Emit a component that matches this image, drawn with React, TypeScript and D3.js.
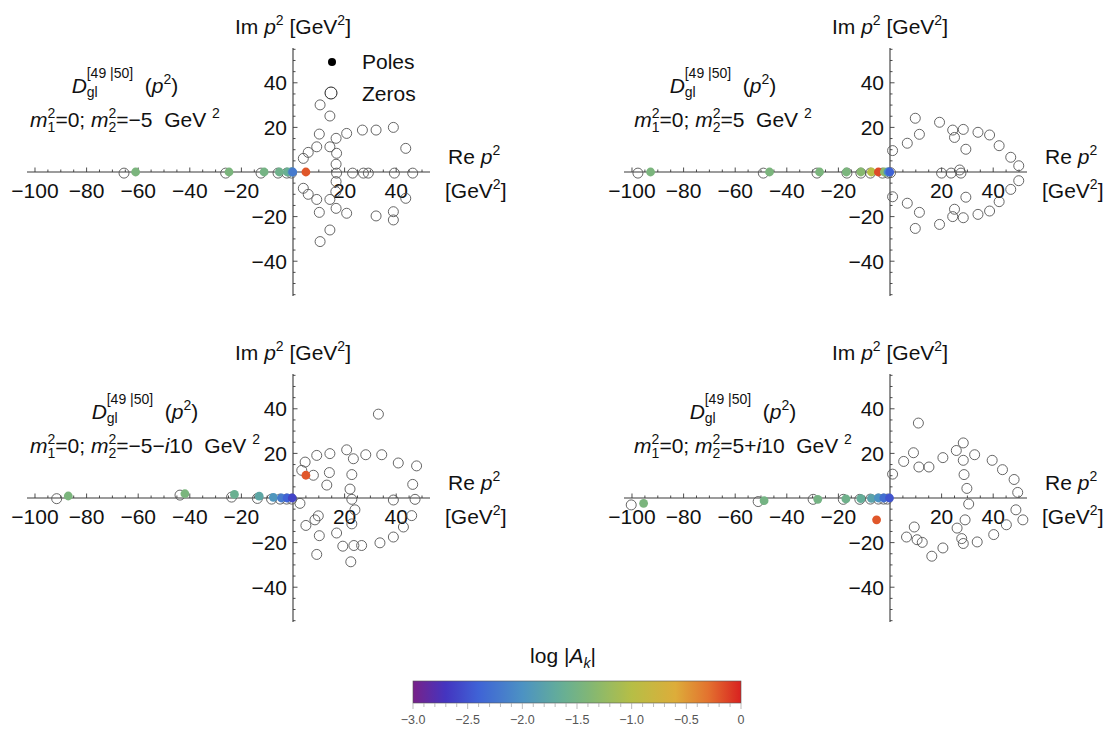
import React from "react";
import * as d3 from "d3";

// ---------- data ----------
const xTickValues = [-100, -80, -60, -40, -20, 20, 40];
const yTickValues = [-40, -20, 20, 40];
const cbTickValues = [-3, -2.5, -2, -1.5, -1, -0.5, 0];
const cbTickLabels = ["−3.0", "−2.5", "−2.0", "−1.5", "−1.0", "−0.5", "0"];
const rainbowDomain = [-3, -2.7, -2.4, -2.0, -1.65, -1.35, -1.0, -0.6, -0.3, 0];
const rainbowRange = ["#782189", "#4435C0", "#3F63D6", "#4C92C3", "#64AE98", "#86B870", "#B6BE46", "#DDAD3A", "#E3722F", "#D92120"];

// zeros: [Re, Im]; poles: [Re, Im, log|A_k|]
const zeros1 = [
  [-65.5, -0.5], [-26.1, -0.5], [-12.4, -0.5], [-5.8, -0.5], [-2.4, -0.5], [-0.6, -0.5],
  [16.9, -0.5], [23.1, -0.5], [27.3, -0.5], [29.2, -0.5], [39.3, -0.5], [46.4, -0.5],
  [10.5, 30.1], [14.3, 25.1], [10.2, 17.0], [16.7, 15.1], [20.8, 17.3], [26.9, 18.8], [32.2, 18.8],
  [38.9, 20.0], [43.7, 10.6], [9.2, 11.3], [14.3, 11.3], [5.9, 8.8], [4.0, 6.1], [16.9, 8.4], [16.7, 3.5],
  [16.7, -4.3], [16.6, -8.8], [14.3, -12.3], [4.0, -7.3], [5.9, -10.0], [9.2, -12.3], [16.7, -16.3],
  [10.2, -18.1], [20.8, -18.5], [32.2, -19.7], [38.9, -17.8], [38.9, -21.5], [43.7, -11.8], [14.3, -26.0], [10.5, -31.2],
];
const poles1 = [
  [-61, 0, -1.45], [-24.8, 0, -1.45], [-11.2, 0, -1.5], [-5.3, 0, -1.55], [-2.2, 0, -1.6],
  [-0.8, 0, -1.7], [-0.3, 0, -1.9], [-0.1, 0, -2.2], [5.0, 0, -0.2],
];
const zeros2 = [
  [-97.7, -0.5], [-49.1, -0.5], [-28.3, -0.5], [-16.7, -0.5], [-11.3, -0.5], [-7.6, -0.5], [-2.9, -0.5],
  [-0.8, -0.5], [0.2, -0.3], [20.0, -0.5], [23.7, -0.5], [27.5, -0.5], [27.0, 0.9],
  [1.0, 9.6], [6.7, 12.9], [9.8, 24.1], [11.4, 16.9], [19.2, 22.3], [24.3, 18.8], [25.0, 15.5], [28.4, 19.1],
  [29.4, 10.2], [34.1, 17.8], [38.6, 16.6], [42.3, 11.8], [46.8, 6.6], [49.9, 2.8],
  [1.0, -11.1], [6.7, -14.0], [11.4, -18.1], [9.8, -25.3], [19.2, -23.5], [24.3, -20.0], [25.0, -16.7], [28.4, -20.5],
  [29.4, -11.3], [34.1, -19.0], [38.6, -17.5], [42.3, -13.3], [46.8, -7.8], [49.9, -3.9],
];
const poles2 = [
  [-92.8, 0, -1.45], [-46.7, 0, -1.45], [-27.3, 0, -1.45], [-16.9, 0, -1.45], [-11.3, 0, -1.35],
  [-7.2, 0, -1.0], [-4.5, 0, -0.15], [-2.2, 0, -1.3], [-0.8, 0, -2.0], [-0.1, 0, -2.4],
];
const zeros3 = [
  [-91.6, -0.3], [-43.8, 1.3], [-23.8, 0.4], [-13.8, -0.2], [-8.3, -0.5], [-5.0, -0.5], [-2.5, -0.5], [-0.5, -0.5], [2.7, -2.4],
  [33.1, 37.6], [20.8, 21.6], [14.3, 19.9], [9.2, 19.1], [4.7, 16.1], [3.4, 12.4], [7.9, 10.2], [23.4, 17.6], [28.2, 19.4],
  [34.4, 19.4], [40.8, 15.7], [47.9, 14.4], [46.4, 6.1], [14.1, 11.4], [13.1, 5.8], [22.8, 10.5], [22.1, 4.0],
  [22.8, -0.6], [38.9, -0.9], [47.3, -0.6],
  [24.0, -5.3], [22.8, -11.6], [9.8, -8.0], [8.5, -9.8], [5.0, -12.3], [10.2, -16.9], [16.9, -15.7], [19.3, -21.6],
  [23.6, -21.3], [26.6, -21.3], [33.7, -20.1], [38.9, -17.5], [42.8, -13.0], [46.0, -7.9], [9.2, -25.3], [22.4, -28.6],
];
const poles3 = [
  [-87.1, 0.9, -1.45], [-41.9, 1.9, -1.45], [-22.7, 1.6, -1.6], [-13.1, 0.8, -1.75], [-7.6, 0.3, -1.95],
  [-4.5, 0, -2.2], [-2.3, 0, -2.4], [-0.3, 0, -2.6], [5.0, 10.2, -0.2],
];
const zeros4 = [
  [-100.3, -3.1], [-51.1, -1.6], [-29.8, -0.6], [-18.1, -0.6], [-11.7, -0.6], [-7.6, -0.5], [-4.5, -0.5], [-2.5, -0.5], [-1.0, -0.5],
  [11.0, 33.6], [9.1, 20.3], [5.3, 16.4], [1.0, 10.7], [11.2, 13.9], [15.1, 13.9], [20.5, 18.1], [25.7, 21.3], [28.4, 24.7],
  [28.4, 16.9], [28.7, 10.5], [29.8, 4.3], [32.8, 19.4], [39.6, 16.9], [43.6, 12.7], [48.1, 8.3], [49.5, 2.5],
  [30.5, -2.7], [29.1, -9.8], [48.8, -5.3], [51.5, -9.8], [45.1, -12.0], [40.2, -16.4], [33.8, -19.7], [26.0, -13.5],
  [27.8, -18.2], [28.4, -20.4], [20.5, -22.4], [16.2, -26.1], [9.4, -13.0], [10.5, -18.7], [6.4, -17.5], [12.5, -19.9],
];
const poles4 = [
  [-95.5, -2.4, -1.45], [-48.8, -1.2, -1.5], [-28.0, -0.6, -1.5], [-17.1, -0.4, -1.55], [-11.3, -0.3, -1.65],
  [-7.2, -0.2, -1.8], [-4.5, 0, -2.0], [-2.4, 0, -2.3], [-0.2, 0, -2.5], [-5.2, -9.8, -0.2],
];

// ---------- layout ----------
const FONT = "'Liberation Sans', Arial, Helvetica, sans-serif";
const X_DOMAIN = [-103.1, 53.1];
const Y_DOMAIN = [-55.6, 55.6];
const AXIS = "#3a3a3a";
const FS = 21;
const SS = 14;

const color = d3.scaleLinear<string>().domain(rainbowDomain).range(rainbowRange).interpolate(d3.interpolateRgb).clamp(true);

type PanelProps = {
  ox: number; oy: number; zeros: number[][]; poles: number[][];
  labelCx: number; m2: React.ReactNode; legend?: boolean;
};

function Panel({ ox, oy, zeros, poles, labelCx, m2, legend }: PanelProps) {
  const x = d3.scaleLinear().domain(X_DOMAIN).range([27 + ox, 430 + ox]);
  const y = d3.scaleLinear().domain(Y_DOMAIN).range([296 + oy, 48 + oy]);
  const x0 = x(0);
  const y0 = y(0);
  const xMinor = d3.range(-100, 51, 5);
  const yMinor = d3.range(-55, 56, 5);
  return (
    <g fontFamily={FONT} fill="#111">
      <line x1={x(X_DOMAIN[0])} x2={x(X_DOMAIN[1])} y1={y0} y2={y0} stroke={AXIS} strokeWidth={1.1} />
      <line x1={x0} x2={x0} y1={y(Y_DOMAIN[1])} y2={y(Y_DOMAIN[0])} stroke={AXIS} strokeWidth={1.1} />
      {xMinor.map((v) => (v === 0 ? null : (
        <line key={"xt" + v} x1={x(v)} x2={x(v)} y1={y0} y2={y0 - (v % 20 === 0 ? 4.5 : 2.5)} stroke={AXIS} strokeWidth={0.9} />
      )))}
      {yMinor.map((v) => (v === 0 ? null : (
        <line key={"yt" + v} x1={x0} x2={x0 + (v % 20 === 0 ? 4.5 : 2.5)} y1={y(v)} y2={y(v)} stroke={AXIS} strokeWidth={0.9} />
      )))}
      {xTickValues.map((v) => (
        <text key={"xl" + v} x={x(v)} y={y0 + 26} textAnchor="middle" fontSize={FS}>
          {v < 0 ? "−" + Math.abs(v) : String(v)}
        </text>
      ))}
      {yTickValues.map((v) => (
        <text key={"yl" + v} x={x0 - 6} y={y(v) + 7.5} textAnchor="end" fontSize={FS}>
          {v < 0 ? "−" + Math.abs(v) : String(v)}
        </text>
      ))}
      <text x={x0} y={34 + oy} textAnchor="middle" fontSize={FS} style={{ whiteSpace: "pre" }}>
        <tspan>{"Im "}</tspan>
        <tspan fontStyle="italic">p</tspan>
        <tspan fontSize={SS} dy={-9}>2</tspan>
        <tspan dy={9}>{" [GeV"}</tspan>
        <tspan fontSize={SS} dy={-9}>2</tspan>
        <tspan dy={9}>]</tspan>
      </text>
      <text x={448 + ox} y={164 + oy} fontSize={FS} style={{ whiteSpace: "pre" }}>
        <tspan>{"Re "}</tspan>
        <tspan fontStyle="italic">p</tspan>
        <tspan fontSize={SS} dy={-9}>2</tspan>
      </text>
      <text x={445 + ox} y={198 + oy} fontSize={FS} style={{ whiteSpace: "pre" }}>
        <tspan>[GeV</tspan>
        <tspan fontSize={SS} dy={-9}>2</tspan>
        <tspan dy={9}>]</tspan>
      </text>
      <text x={labelCx} y={93 + oy} textAnchor="middle" fontSize={FS} style={{ whiteSpace: "pre" }}>
        <tspan fontStyle="italic">D</tspan>
        <tspan fontSize={SS} dy={4}>gl</tspan>
        <tspan fontSize={SS} dx={-11} dy={-19}>{"[49 |50]"}</tspan>
        <tspan dy={15}>{"  ("}</tspan>
        <tspan fontStyle="italic">p</tspan>
        <tspan fontSize={SS} dy={-9}>2</tspan>
        <tspan dy={9}>)</tspan>
      </text>
      <text x={labelCx} y={127 + oy} textAnchor="middle" fontSize={FS} style={{ whiteSpace: "pre" }}>
        <tspan fontStyle="italic">m</tspan>
        <tspan fontSize={SS} dy={5}>1</tspan>
        <tspan fontSize={SS} dx={-7.8} dy={-14}>2</tspan>
        <tspan dy={9}>{"=0; "}</tspan>
        <tspan fontStyle="italic">m</tspan>
        <tspan fontSize={SS} dy={5}>2</tspan>
        <tspan fontSize={SS} dx={-7.8} dy={-14}>2</tspan>
        <tspan dy={9}>=</tspan>
        {m2}
        <tspan>{"  GeV "}</tspan>
        <tspan fontSize={SS} dy={-9}>2</tspan>
      </text>
      {zeros.map((d, i) => (
        <circle key={"z" + i} cx={x(d[0])} cy={y(d[1])} r={5} fill="none" stroke="#555" strokeWidth={0.9} />
      ))}
      {poles.map((d, i) => (
        <circle key={"p" + i} cx={x(d[0])} cy={y(d[1])} r={4.4} fill={color(d[2])} />
      ))}
      {legend && (
        <g>
          <circle cx={332 + ox} cy={62 + oy} r={4} fill="#000" />
          <text x={362 + ox} y={69 + oy} fontSize={FS}>Poles</text>
          <circle cx={331 + ox} cy={93 + oy} r={6} fill="none" stroke="#222" strokeWidth={1} />
          <text x={362 + ox} y={101 + oy} fontSize={FS}>Zeros</text>
        </g>
      )}
    </g>
  );
}

function ColorBar() {
  const x = d3.scaleLinear().domain([-3, 0]).range([413, 741]);
  const stops = d3.range(0, 31).map((i) => -3 + i * 0.1);
  return (
    <g fontFamily={FONT}>
      <defs>
        <linearGradient id="cbgrad" x1="0" x2="1" y1="0" y2="0">
          {stops.map((v, i) => (
            <stop key={i} offset={(v + 3) / 3} stopColor={color(v)} />
          ))}
        </linearGradient>
      </defs>
      <text x={563} y={663} textAnchor="middle" fontSize={FS} fill="#111" style={{ whiteSpace: "pre" }}>
        <tspan>{"log |"}</tspan>
        <tspan fontStyle="italic">A</tspan>
        <tspan fontStyle="italic" fontSize={SS} dy={5}>k</tspan>
        <tspan dy={-5}>|</tspan>
      </text>
      <rect x={x(-3)} y={681} width={x(0) - x(-3)} height={22} fill="url(#cbgrad)" stroke="#555" strokeWidth={0.6} />
      {stops.map((v, i) => (
        <line key={"cm" + i} x1={x(v)} x2={x(v)} y1={703} y2={703 + (i % 5 === 0 ? 6 : 4)} stroke="#aaa" strokeWidth={0.8} />
      ))}
      {cbTickValues.map((v, i) => (
        <text key={"cl" + i} x={x(v)} y={724} textAnchor="middle" fontSize={12.5} fill="#555">
          {cbTickLabels[i]}
        </text>
      ))}
    </g>
  );
}

export default function App() {
  return (
    <svg width={1107} height={731} style={{ position: "absolute", left: 0, top: 0, background: "#fff" }}>
      <rect width={1107} height={731} fill="#fff" />
      <Panel ox={0} oy={0} zeros={zeros1} poles={poles1} labelCx={125} legend m2={<tspan>−5</tspan>} />
      <Panel ox={597} oy={0} zeros={zeros2} poles={poles2} labelCx={723} m2={<tspan>5</tspan>} />
      <Panel ox={0} oy={326} zeros={zeros3} poles={poles3} labelCx={145}
        m2={<><tspan>−5−</tspan><tspan fontStyle="italic">i</tspan><tspan>10</tspan></>} />
      <Panel ox={597} oy={326} zeros={zeros4} poles={poles4} labelCx={743}
        m2={<><tspan>5+</tspan><tspan fontStyle="italic">i</tspan><tspan>10</tspan></>} />
      <ColorBar />
    </svg>
  );
}
